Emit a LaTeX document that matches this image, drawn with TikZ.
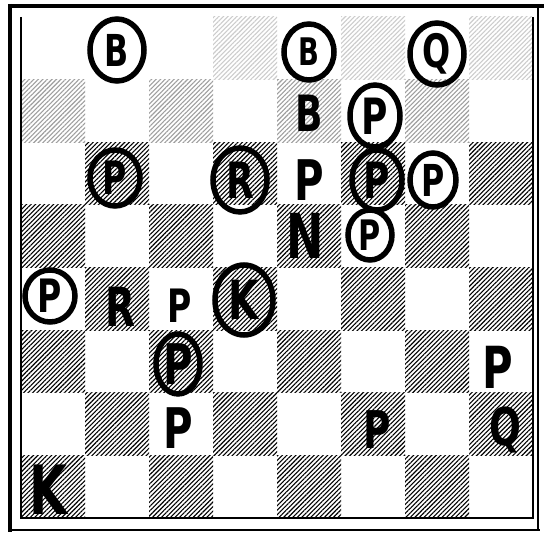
\documentclass[tikz,border=0pt]{standalone}
\usepackage{fontspec}
\newfontfamily\hand{DejaVu Sans}[FakeStretch=0.72]
\usetikzlibrary{shapes.geometric,patterns.meta}
\tikzset{
  pc/.style={font=\hand\bfseries\fontsize{#1}{#1}\selectfont, inner sep=0pt},
  ring/.style={draw, line width=5.5pt, ellipse, inner sep=0pt},
  hatch/.style={pattern={Lines[angle=45,distance=3.2pt,line width=1.1pt]}, pattern color=#1},
  frame/.style={line width=#1},
}
\begin{document}
\begin{tikzpicture}[x=1pt,y=-1pt]
\useasboundingbox[fill=white] (0,0) rectangle (544,534);
% squares
\foreach \r in {0,...,7}{
  \foreach \c in {0,...,7}{
    \pgfmathtruncatemacro\s{\r+\c}
    \pgfmathsetmacro\xa{21+64*\c}
    \pgfmathsetmacro\ya{17+62.625*\r}
    \ifodd\s
      \ifnum\r=0
        \ifnum\c>1
          \fill[hatch=black!20] (\xa,\ya) rectangle ++(64,62.625);
        \fi
      \else\ifnum\r=1
        \fill[hatch=black!38] (\xa,\ya) rectangle ++(64,62.625);
      \else
        \fill[hatch=black] (\xa,\ya) rectangle ++(64,62.625);
      \fi\fi
    \fi
  }
}
% frames
\draw[frame=1.2pt] (21,17) -- (21,518) -- (533,518) -- (533,17);
\draw[frame=4pt] (10,4) -- (10,532);
\draw[frame=4pt] (8,6) -- (544,6);
\draw[frame=2.5pt] (8,530) -- (540,530);
\draw[frame=1.5pt] (538,6) -- (538,531);
% circled pieces
\node[ring, minimum width=54pt, minimum height=62pt] (c1) at (117,50) {};
\node[pc=44] (p1) at (c1) {B};
\node[ring, minimum width=50pt, minimum height=56pt] (c2) at (309,52) {};
\node[pc=38] (p2) at (c2) {B};
\node[ring, minimum width=54pt, minimum height=62pt] (c3) at (437,54) {};
\node[pc=46] (p3) at (c3) {Q};
\node[ring, minimum width=50pt, minimum height=62pt] (c4) at (375,116) {};
\node[pc=50] (p4) at (c4) {P};
\node[ring, minimum width=50pt, minimum height=56pt] (c5) at (115,178) {};
\node[pc=46] (p5) at (c5) {P};
\node[ring, minimum width=54pt, minimum height=64pt] (c6) at (240,180) {};
\node[pc=50] (p6) at (c6) {R};
\node[ring, minimum width=50pt, minimum height=60pt] (c7) at (377,180) {};
\node[pc=50] (p7) at (c7) {P};
\node[ring, minimum width=46pt, minimum height=54pt] (c8) at (433,180) {};
\node[pc=44] (p8) at (c8) {P};
\node[ring, minimum width=44pt, minimum height=50pt] (c9) at (370,235) {};
\node[pc=42] (p9) at (c9) {P};
\node[ring, minimum width=50pt, minimum height=52pt] (c10) at (50,296) {};
\node[pc=46] (p10) at (c10) {P};
\node[ring, minimum width=58pt, minimum height=70pt] (c11) at (244,300) {};
\node[pc=54] (p11) at (c11) {K};
\node[ring, minimum width=44pt, minimum height=60pt] (c12) at (178,364) {};
\node[pc=56] (p12) at (c12) {P};
% plain pieces
\node[pc=50] (u1) at (309,113) {B};
\node[pc=56] (u2) at (309,180) {P};
\node[pc=62] (u3) at (305,236) {N};
\node[pc=54] (u4) at (120,307) {R};
\node[pc=46] (u5) at (180,306) {P};
\node[pc=56] (u6) at (178,428) {P};
\node[pc=68] (u7) at (48,490) {K};
\node[pc=58] (u8) at (498,367) {P};
\node[pc=52] (u9) at (377,430) {P};
\node[pc=52] (u10) at (505,430) {Q};
\end{tikzpicture}
\end{document}
